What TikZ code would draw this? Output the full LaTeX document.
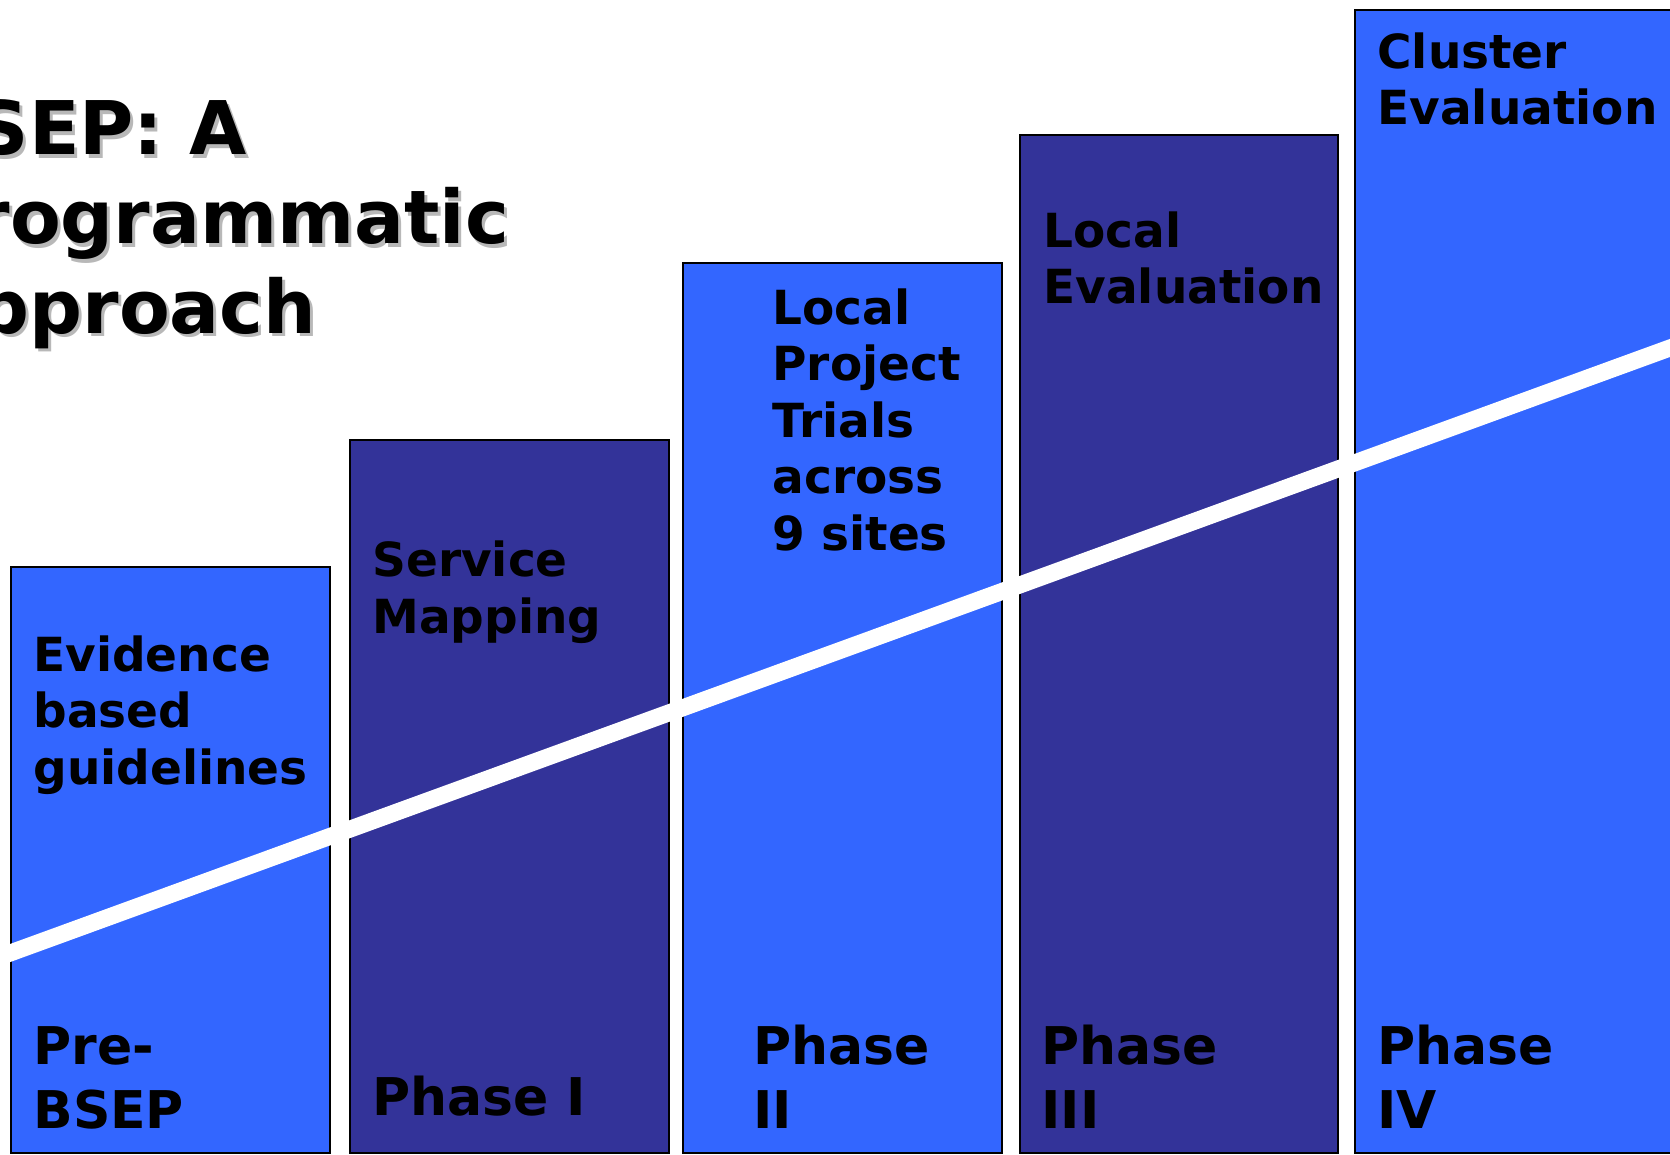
\documentclass[tikz,border=0pt]{standalone}
\usepackage{fontspec}
\setmainfont{DejaVu Sans}
\definecolor{barlight}{HTML}{3366FF}
\definecolor{bardark}{HTML}{333399}
\definecolor{shadowgray}{HTML}{B8B8B8}
\tikzset{
  lightbar/.style={draw=black, line width=1pt, fill=barlight},
  darkbar/.style={draw=black, line width=1pt, fill=bardark},
  toplabel/.style={anchor=base west, inner sep=0pt, align=left,
    font=\fontsize{23.5}{28.25}\selectfont\bfseries},
  phaselabel/.style={anchor=base west, inner sep=0pt, align=left,
    font=\fontsize{26}{32}\selectfont\bfseries},
  titletext/.style={anchor=base west, inner sep=0pt, align=left,
    font=\fontsize{37}{44.5}\selectfont\bfseries},
}
\begin{document}
\begin{tikzpicture}[x=0.5pt,y=-0.5pt]
\useasboundingbox (0,0) rectangle (1670,1155);
\clip (0,0) rectangle (1670,1155);
\fill [white] (0,0) rectangle (1670,1155);

% title with its shadow
\node [titletext, text=shadowgray] (titleshadow) at (-78,336) {BSEP: A\\Programmatic\\Approach};
\node [titletext] (title) at (-81,333) {BSEP: A\\Programmatic\\Approach};

% bars
\draw [lightbar] (11,567) rectangle (330,1153);
\draw [darkbar]  (350,440) rectangle (669,1153);
\draw [lightbar] (683,263) rectangle (1002,1153);
\draw [darkbar]  (1020,135) rectangle (1338,1153);
\draw [lightbar] (1355,10) rectangle (1700,1153);

% rising line
\draw [white, line width=8.5pt] (-20,964) -- (1700,337);

% what each bar holds (anchored at the last line)
\node [toplabel] (evidence) at (33,784) {Evidence\\based\\guidelines};
\node [toplabel] (mapping)  at (372,633) {Service\\Mapping};
\node [toplabel] (trials)   at (772,550) {Local\\Project\\Trials\\across\\9 sites};
\node [toplabel] (localev)  at (1043,304) {Local\\Evaluation};
\node [toplabel] (cluster)  at (1377,125) {Cluster\\Evaluation};

% phases
\node [phaselabel] (prebsep) at (33,1128) {Pre-\\BSEP};
\node [phaselabel] (phasei)  at (372,1115) {Phase I};
\node [phaselabel] (phaseii) at (753,1128) {Phase\\II};
\node [phaselabel] (phaseiii) at (1041,1128) {Phase\\III};
\node [phaselabel] (phaseiv) at (1377,1128) {Phase\\IV};
\end{tikzpicture}
\end{document}
